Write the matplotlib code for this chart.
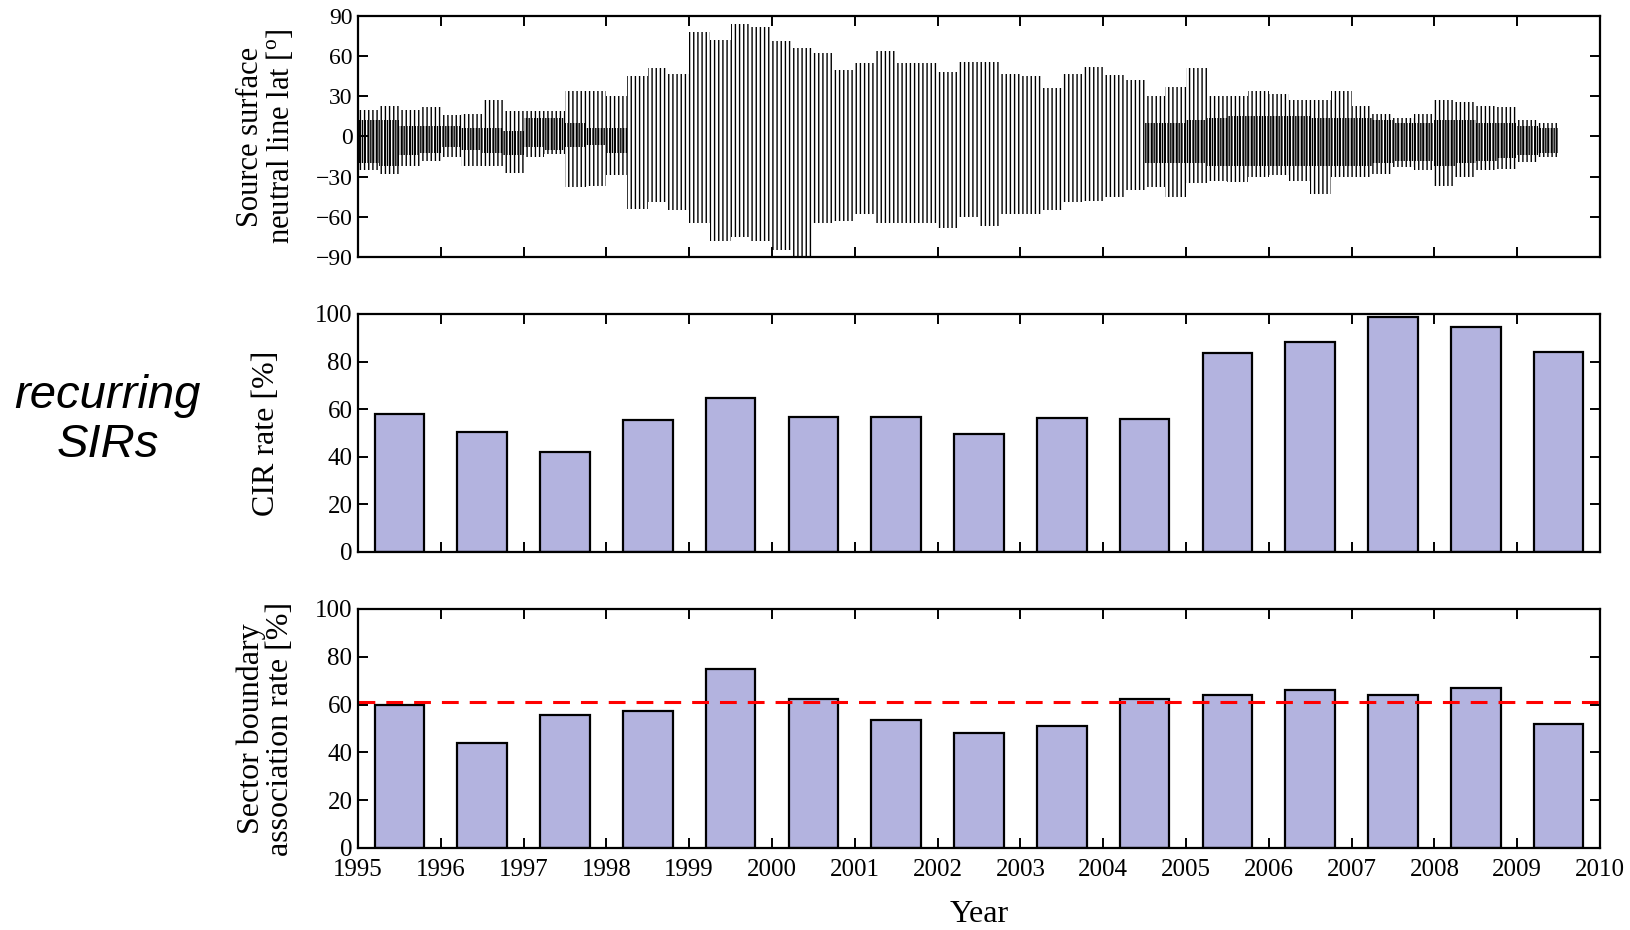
import numpy as np
import matplotlib
matplotlib.use("Agg")
import matplotlib.pyplot as plt

plt.rcParams['font.family'] = ['Liberation Serif', 'DejaVu Serif']
plt.rcParams['hatch.linewidth'] = 1.0

# neutral line latitude envelope, quarter-year bins starting 1995.0
lat_start = 1995.0
lat_step = 0.25
lat_max = [20, 23, 20, 22,
           16, 17, 27, 19,
           19, 19, 34, 34,
           30, 45, 51, 47,
           78, 72, 84, 82,
           71, 66, 62, 50,
           55, 64, 55, 55,
           48, 56, 56, 47,
           45, 36, 47, 52,
           46, 42, 30, 37,
           51, 30, 30, 34,
           32, 27, 27, 34,
           23, 17, 14, 17,
           27, 26, 23, 22,
           12, 10]
lat_min = [-25, -28, -22, -18,
           -15, -22, -22, -27,
           -15, -13, -38, -37,
           -29, -54, -49, -55,
           -65, -78, -75, -78,
           -85, -90, -65, -63,
           -58, -65, -65, -65,
           -68, -60, -67, -58,
           -58, -55, -49, -48,
           -45, -40, -38, -45,
           -35, -33, -34, -30,
           -29, -33, -43, -30,
           -30, -28, -23, -25,
           -37, -30, -25, -24,
           -19, -15]
# band where successive rotations overlap into solid black (quiet Sun only)
core_max = [12, 12, 8, 8,
            8, 6, 6, 4,
            14, 14, 10, 6,
            6, 0, 0, 0,
            0, 0, 0, 0,
            0, 0, 0, 0,
            0, 0, 0, 0,
            0, 0, 0, 0,
            0, 0, 0, 0,
            0, 0, 10, 10,
            12, 14, 15, 15,
            15, 15, 14, 14,
            14, 12, 10, 10,
            12, 12, 10, 10,
            8, 6]
core_min = [-20, -22, -14, -12,
            -8, -10, -12, -14,
            -8, -10, -8, -6,
            -12, 0, 0, 0,
            0, 0, 0, 0,
            0, 0, 0, 0,
            0, 0, 0, 0,
            0, 0, 0, 0,
            0, 0, 0, 0,
            0, 0, -20, -20,
            -20, -22, -22, -22,
            -22, -22, -22, -22,
            -22, -20, -18, -18,
            -22, -20, -18, -16,
            -14, -12]

years = list(range(1995, 2010))
cir_rate = [57.9, 50.4, 42.1, 55.3, 64.9, 56.6, 56.6, 49.6, 56.1, 55.7,
            83.8, 88.2, 98.7, 94.7, 84.2]
sector_rate = [59.9, 44.0, 55.6, 57.3, 75.0, 62.5, 53.4, 48.3, 50.9, 62.5,
               64.2, 65.9, 63.8, 66.8, 51.7]
sector_mean = 61.0

bar_color = '#b3b3df'

fig = plt.figure(figsize=(16.3, 9.3), dpi=100)
ax1 = fig.add_axes([0.2196, 0.7237, 0.762, 0.2591])
ax2 = fig.add_axes([0.2196, 0.4065, 0.762, 0.2559])
ax3 = fig.add_axes([0.2196, 0.0882, 0.762, 0.2570])


def style_axes(ax, labelsize):
    for s in ax.spines.values():
        s.set_linewidth(1.6)
    ax.set_xlim(1995, 2010)
    ax.set_xticks(range(1995, 2011))
    ax.tick_params(direction='in', length=7.5, width=1.4, top=True, right=True,
                   labelsize=labelsize, pad=4)
    ax.tick_params(axis='x', pad=8)


def stepped(vals):
    return np.append(vals, vals[-1])


# top panel: neutral line excursions drawn as vertical hatching
edges = lat_start + lat_step * np.arange(len(lat_max) + 1)
ax1.fill_between(edges, stepped(lat_min), stepped(lat_max), step='post',
                 facecolor='none', edgecolor='black', linewidth=0, hatch='||||')
ax1.fill_between(edges, stepped(core_min), stepped(core_max), step='post',
                 facecolor='none', edgecolor='black', linewidth=0,
                 hatch='||||||')
style_axes(ax1, 17)
ax1.set_ylim(-90, 90)
ax1.set_yticks(range(-90, 91, 30))
ax1.set_xticklabels([])
ax1.set_ylabel('Source surface\nneutral line lat [$^\\mathregular{o}$]',
               fontsize=22, va='center', linespacing=1.0)
ax1.yaxis.set_label_coords(-0.074, 0.5)

# middle panel: CIR rate
x = np.array(years) + 0.5
ax2.bar(x, cir_rate, width=0.6, color=bar_color, edgecolor='black',
        linewidth=1.6)
style_axes(ax2, 18)
ax2.set_ylim(0, 100)
ax2.set_yticks(range(0, 101, 20))
ax2.set_xticklabels([])
ax2.set_ylabel('CIR rate [%]', fontsize=23, va='center')
ax2.yaxis.set_label_coords(-0.074, 0.5)

# bottom panel: sector boundary association
ax3.bar(x, sector_rate, width=0.6, color=bar_color, edgecolor='black',
        linewidth=1.6)
ax3.axhline(sector_mean, color='red', linewidth=2.2, linestyle=(0, (5.5, 3.6)))
style_axes(ax3, 18)
ax3.set_ylim(0, 100)
ax3.set_yticks(range(0, 101, 20))
ax3.set_ylabel('Sector boundary\nassociation rate [%]', fontsize=23,
               va='center', linespacing=1.0)
ax3.yaxis.set_label_coords(-0.074, 0.5)
ax3.set_xlabel('Year', fontsize=23, va='center')
ax3.xaxis.set_label_coords(0.5, -0.28)

fig.text(0.066, 0.548, 'recurring\nSIRs', ha='center', va='center',
         fontsize=34, style='italic', family='Liberation Sans', linespacing=1.15)

fig.savefig('out.png', dpi=100)
